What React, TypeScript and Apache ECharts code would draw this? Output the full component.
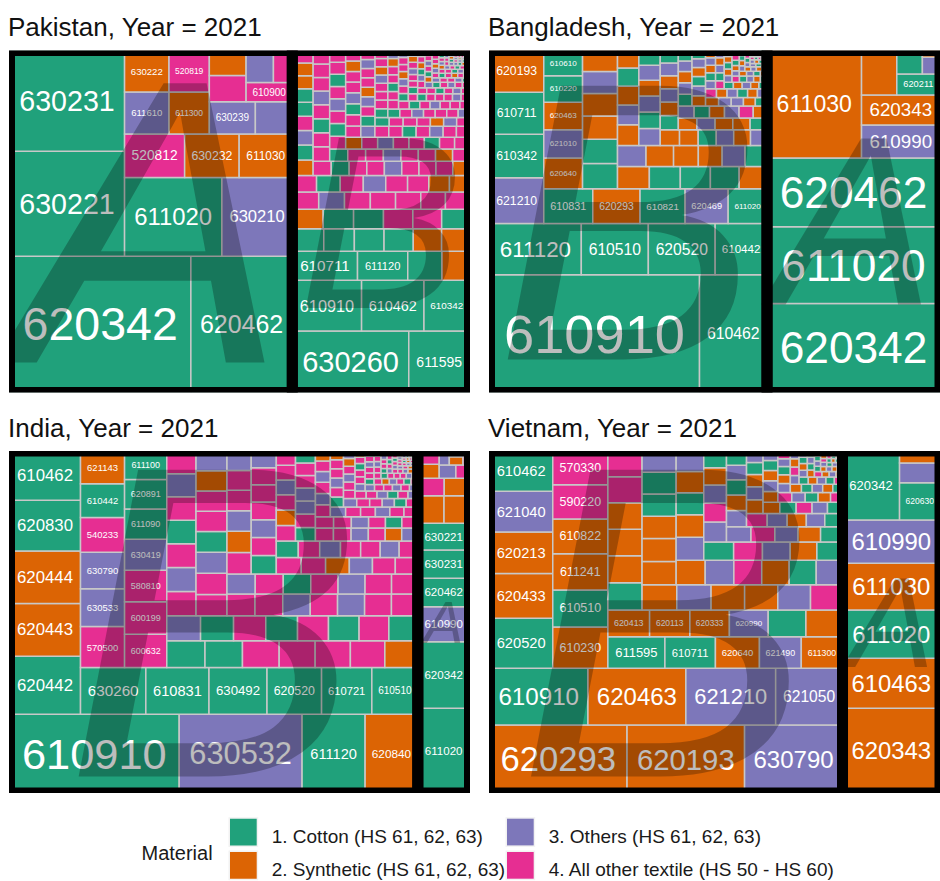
import React, { useEffect, useRef } from 'react';
import * as echarts from 'echarts';

// ---------------- DATA (values read as relative tile areas) ----------------
// cats: c = Cotton, s = Synthetic, o = Others, t = All other textile

// Pakistan
const PK_A_CODES = ['620342','620462','630221','630231','611020','630210','520812','630232','611030','611610','630222','611300','520819','630239','630299','611400','611090','610900','630293','520100'];
const PK_A_VALUES = [245,137,120,115,76,55,26,23.6,23,18.5,18.3,16.8,16.6,14.7,11.8,9.6,9.1,8.8,8.7,6.0];
const PK_A_CATS = 'cccccotssosstootstot';

const PK_B_CODES = ['630260','611595','610910','610462','610342','610711','611120'];
const PK_B_VALUES = [71,37,35,31.5,23,18.7,14.4,9.8,7.9,
  7.0,6.8,6.6,6.5,6.3,6.2, 6.0,5.9,5.8,5.7,5.6,5.4,
  4.5,4.4,4.4,4.3,4.3,4.2,4.1, 4.0,3.9,3.8,3.7,3.6,3.5,3.4,
  3.3,3.2,3.1,3.0,2.95,2.9,2.8,2.7,2.6,
  2.6,2.58,2.55,2.52,2.5,2.48,2.45,2.42,2.4,2.38,2.35,2.33,2.3,2.28,2.26,2.24,2.22,2.2,2.18,2.16,2.14,2.12,2.1,2.08,2.06,2.04,2.02,2.0,
  1.98,1.96,1.94,1.92,1.9,1.88,1.86,1.84,1.82,1.8,1.78,1.76,1.74,1.72,1.7,1.68,1.66,1.64,1.62,1.6,1.58,1.56,1.54,1.52,1.5,1.49,1.48,1.47,
  1.45,1.43,1.41,1.39,1.37,1.35,1.33,1.31,1.29,1.27,1.25,1.23,1.21,1.19,1.17,1.15,1.13,1.11,1.09,1.07,1.06,1.05,1.04,1.03,1.02,1.01,1.0,0.99,0.98,0.97,
  0.96,0.95,0.94,0.92,0.9,0.89,0.88,0.86,0.85,0.84,0.82,0.8,0.79,0.78,0.76,0.75,0.74,0.72,0.71,0.7,0.69,0.68,0.67,0.66,0.65,0.64,0.63,0.62,0.62,0.61,
  0.6,0.59,0.58,0.57,0.56,0.55,0.54,0.53,0.52,0.51,0.5,0.49,0.48,0.47,0.46,0.45,0.45,0.44,0.43,0.42,0.42,0.41,0.4,0.4,0.39,0.39,0.38,0.38,0.37,0.37,0.36,0.36,
  0.35,0.34,0.34,0.33,0.32,0.32,0.31,0.3,0.3,0.29,0.28,0.28,0.27,0.26,0.26,0.25,0.25,0.24,0.23,0.23,0.22,0.22,0.21,0.21,0.2,0.2,0.19,0.19,0.18,0.18,0.17,0.17,0.16,0.16,
  0.15,0.15,0.14,0.14,0.13,0.13,0.12,0.12,0.12,0.11,0.11,0.1,0.1,0.1,0.09,0.09,0.09,0.08,0.08,0.08,0.07,0.07,0.07,0.06,0.06,0.06,0.05,0.05,0.05,0.05,0.04,0.04,0.04,0.03,0.03,0.03];
const PK_B_CATS = 'ccccccc' + 'cs' + 'ccccss' + 'sccttc' + 'tottttt' + 'tctotts' + 'sscotccss' +
  'ttct' + 'tott' + 'tstt' + 'ctot' + 'ttct' + 'tott' + 'sttc' +
  'totc' + 'ttst' + 'ottc' + 'tttt' + 'cott' + 'stot' + 'tcto' +
  'ttcto' + 'sttot' + 'cttts' + 'otctt' + 'tostt' + 'ctott' +
  'tottc' + 'ttsot' + 'ctott' + 'tctos' + 'ttotc' + 'tttot' +
  'ctto' + 'tsot' + 'tcto' + 'ttoc' + 'stto' + 'ctot' + 'tsct' + 'otto' +
  'ttoct' + 'ostto' + 'ctsto' + 'ttcot' + 'sotct' + 'otcts' + 'ttot' +
  'ocst' + 'tocs' + 'ttoc' + 'sotc' + 'tsoc' + 'tost' + 'coto' + 'stoc' + 'tost';

// Bangladesh
const BD_B_CODES = ['610910','610462','611120','610510','620520','610442','621210','610342','610711','620193','610831','620293','610821','620469','611020','620640','621010','620463','610220','610610'];
const BD_B_VALUES = [252,81,47.8,34.9,34.8,27,25.4,24,23.2,23.1,17.4,16.8,16,15.3,13.8,12.1,11.2,10.9,10.4,10.0,
  9.0,8.6,8.3,8.0,7.8,7.5,
  7.2,7.0,6.8,6.5,6.3,6.1,5.9,
  5.3,5.1,4.9,4.7,4.5,4.3,4.1,3.95,3.8,3.7,3.6,3.5,
  3.4,3.3,3.2,3.1,3.0,2.9,2.8,2.7,2.65,2.6,2.5,2.45,2.4,2.35,2.3,2.2,
  2.15,2.1,2.05,2.0,1.95,1.9,1.85,1.8,1.75,1.7,1.65,1.6,1.55,1.5,1.45,1.4,1.35,1.3,1.25,1.2,
  1.15,1.12,1.08,1.05,1.02,1.0,0.97,0.94,0.92,0.9,0.87,0.85,0.83,0.8,0.78,0.76,0.74,0.72,0.7,0.68,0.66,0.64,0.62,0.6,
  0.58,0.56,0.55,0.53,0.52,0.5,0.49,0.47,0.46,0.45,0.43,0.42,0.41,0.4,0.39,0.38,0.37,0.36,0.35,0.34,0.33,0.32,0.31,0.3,0.29,0.28,0.27,0.26,
  0.25,0.24,0.23,0.22,0.21,0.2,0.19,0.19,0.18,0.17,0.16,0.16,0.15,0.14,0.14,0.13,0.12,0.12,0.11,0.1,0.1,0.09,0.09,0.08,0.08,0.07,0.07,0.06,0.06,0.05];
const BD_B_CATS = 'ccccccoccscscocsoscc' + 'ccssos' + 'scccsos' + 'ssocsoscsoco' + 'socsscosocsosocs' +
  'osscocsotscosocsocso' + 'csoosctsocsoocsostcosocs' + 'oscoscsotcoscosctosocsoscoso' + 'scoctsocsoscotsocsotcsoscotscs';

const BD_A_CODES = ['620342','611020','620462','611030','610990','620343','620433','620211'];
const BD_A_VALUES = [157,135,121,103.6,26.5,23.9,16,9.3,6.1,3.0,1.2];
const BD_A_CATS = 'cccsossccos';

// India
const IN_B_CODES = ['610910','630532','611120','620840','620442','620443','620444','620830','610462','630260','610831','630492','620520','610721','610510','570500','630533','630790','540233','610442','621143','600632','600199','580810','630419','611090','620891','611100'];
const IN_B_VALUES = [133,96.3,49.4,41.3,41.0,37.4,37.0,36.0,34.8,30.4,29.4,27.0,25.4,23.4,21.4,18.0,16.6,16.0,15.2,14.8,14.4,14.0,13.6,13.3,13.0,12.7,12.4,12.0,
  10.2,10.0,9.8,9.6,9.4,9.2,8.8, 8.4,8.2,8.0,7.9,7.7,7.6,7.4,7.2,
  7.1,7.0,6.9,6.85,6.8,6.7,6.65,6.6,6.5,6.45,6.4,6.3,6.25,6.2,6.1,6.05,6.0,5.95,5.9,5.85,
  5.8,5.7,5.65,5.6,5.5,5.45,5.4,5.3,5.25,5.2,5.1,5.0,4.9,4.8,4.7,4.6,4.5,4.45,4.4,4.3,
  4.25,4.2,4.1,4.0,3.9,3.8,3.75,3.7,3.6,3.5,3.4,3.3,3.2,3.1,3.05,3.0,2.95,2.9,2.85,2.8,2.75,2.7,2.65,2.6,
  2.55,2.5,2.45,2.4,2.35,2.3,2.25,2.2,2.15,2.1,2.05,2.0,1.95,1.9,1.85,1.8,1.75,1.7,1.65,1.6,1.55,1.5,1.47,1.44,
  1.42,1.39,1.36,1.33,1.3,1.27,1.24,1.21,1.18,1.15,1.12,1.09,1.06,1.03,1.0,0.98,0.96,0.94,0.92,0.9,0.88,0.86,0.84,0.82,0.8,0.78,0.76,0.74,
  0.72,0.7,0.68,0.66,0.64,0.62,0.6,0.58,0.56,0.55,0.54,0.53,0.52,0.51,0.5,0.49,0.48,0.47,0.46,0.45,0.44,0.43,0.42,0.41,0.4,0.39,0.38,0.37,0.36,0.35,0.34,0.33,
  0.32,0.31,0.3,0.29,0.28,0.27,0.26,0.25,0.245,0.24,0.235,0.23,0.225,0.22,0.215,0.21,0.205,0.2,0.195,0.19,0.185,0.18,0.175,0.17,0.165,0.16,0.155,0.15,0.145,0.14,0.135,0.13,0.125,0.12,
  0.115,0.11,0.105,0.1,0.1,0.095,0.09,0.09,0.085,0.08,0.08,0.075,0.07,0.07,0.065,0.06,0.06,0.055,0.05,0.05,0.045,0.04,0.04,0.035,0.03,0.03,0.03,0.025,0.025,0.02,0.02,0.02,0.02,0.015,0.015,0.015];
const IN_B_CATS = 'cocscsscccccccctootcstttoccc' + 'cctttts' + 'octctctc' +
  'totct' + 'ottto' + 'cttso' + 'ttoto' +
  'ttotc' + 'tottt' + 'sotto' + 'ctott' +
  'tott' + 'sott' + 'ctot' + 'tott' + 'stot' + 'tcto' +
  'ottc' + 'ttot' + 'sott' + 'otct' + 'toto' + 'tsot' +
  'tott' + 'ctot' + 'tsot' + 'toct' + 'ttot' + 'sott' + 'octo' +
  'ottc' + 'tsot' + 'toto' + 'ctto' + 'tots' + 'otct' + 'ttot' + 'octt' +
  'totc' + 'ttos' + 'otct' + 'otto' + 'stot' + 'ctto' + 'tsot' + 'toct' + 'to' +
  'otcs' + 'toto' + 'ctst' + 'otco' + 'tsto' + 'ctot' + 'sotc' + 'toto' + 'stct';

const IN_A_CODES = ['611020','620342','610990','620462','630231','630221'];
const IN_A_VALUES = [43.6,34.3,18.0,14.6,14.5,13.8,7.2,7.0,4.6,4.4,3.0,2.8,2.2,1.8,1.4,1.1,0.8,0.6,0.3];
const IN_A_CATS = 'ccoccc' + 'sstsstotosots';

// Vietnam
const VN_B_CODES = ['620293','620193','630790','610910','620463','621210','621050','620520','620433','620213','621040','610462','610230','610510','611241','610822','590220','570330','611595','610711','620640','621490','611300','620413','620113','620333','620990','620462','620453'];
const VN_B_VALUES = [95.5,81.6,68,57,56.7,52,38.7,32.3,29,26.8,26.3,26.0,23.3,20.8,20.4,19.6,19.2,19.0,18.4,16.3,14.2,13.5,13.3,11.4,11.0,10.8,10.6,10.3,10.0,
  9.5,9.4,9.3,9.2,9.1,9.0,
  8.9,8.8,8.6,8.5,8.4,8.2,8.1,8.0,7.8,7.7,7.6,7.4,7.3,7.2,7.0,6.9,6.8,6.6,
  6.5,6.3,6.2,6.0,5.8,5.6,5.4,5.2,5.0,4.8,4.6,4.4,4.2,4.0,3.9,3.8,
  3.7,3.6,3.5,3.4,3.3,3.2,3.1,3.0,2.9,2.8,2.7,2.6,2.5,2.4,2.3,2.2,2.1,2.0,
  1.95,1.9,1.85,1.8,1.75,1.7,1.65,1.6,1.55,1.5,1.45,1.4,1.35,1.3,1.25,1.2,1.15,1.1,1.05,1.0,0.97,0.94,
  0.91,0.88,0.85,0.82,0.79,0.76,0.73,0.7,0.68,0.66,0.64,0.62,0.6,0.58,0.56,0.54,0.52,0.5,0.48,0.46,0.44,0.42,0.4,0.38,0.36,0.34,
  0.33,0.32,0.31,0.3,0.29,0.28,0.27,0.26,0.25,0.24,0.23,0.22,0.21,0.2,0.19,0.18,0.17,0.16,0.15,0.14,0.13,0.12,0.11,0.1,0.09,0.08,0.07,0.06,0.05,0.04];
const VN_B_CATS = 'ssocsoo' + 'cssoc' + 'scsstt' + 'ccsos' + 'sssocs' + 'cssstt' +
  'soss' + 'otss' + 'scco' + 'sots' + 'co' +
  'oscs' + 'octo' + 'scot' + 'osco' +
  'tosc' + 'osco' + 'ctos' + 'ocso' + 'sc' +
  'osct' + 'ocso' + 'scot' + 'ocst' + 'osco' + 'ts' +
  'cosc' + 'otso' + 'csoc' + 'tosc' + 'osco' + 'ctso' + 'sc' +
  'octs' + 'osco' + 'tsoc' + 'osct' + 'osco' + 'ctos' + 'cost' + 'sc';

const VN_A_CODES = ['620343','610463','611020','611030','610990','620342','620630'];
const VN_A_VALUES = [84.3,49.8,48.1,46.5,43.1,40.2,15.4,8.1,5.0];
const VN_A_CATS = 'sscsoccos';

const TITLES = ['Pakistan, Year = 2021', 'Bangladesh, Year = 2021', 'India, Year = 2021', 'Vietnam, Year = 2021'];
const LEGEND_TITLE = 'Material';
const LEGEND_LABELS = ['1. Cotton (HS 61, 62, 63)', '2. Synthetic (HS 61, 62, 63)', '3. Others (HS 61, 62, 63)', '4. All other textile (HS 50 - HS 60)'];
const LEGEND_KEYS = ['c', 's', 'o', 't'];

// ---------------- STYLE ----------------
const FONT = '"Liberation Sans", Arial, Helvetica, sans-serif';
const COLORS: Record<string, string> = { c: '#20a17b', s: '#dc6404', o: '#7d77ba', t: '#e62e92' };
const PANEL_W = 460;
const PANEL_H = 342;
const PANEL_POS = [
  { left: 9.5, top: 50.5 },
  { left: 489.5, top: 50.5 },
  { left: 9.5, top: 451 },
  { left: 489.5, top: 451 },
];

type Group = { letter: string; codes: string[]; values: number[]; cats: string };
const PANEL_GROUPS: Group[][] = [
  [{ letter: 'A', codes: PK_A_CODES, values: PK_A_VALUES, cats: PK_A_CATS }, { letter: 'B', codes: PK_B_CODES, values: PK_B_VALUES, cats: PK_B_CATS }],
  [{ letter: 'B', codes: BD_B_CODES, values: BD_B_VALUES, cats: BD_B_CATS }, { letter: 'A', codes: BD_A_CODES, values: BD_A_VALUES, cats: BD_A_CATS }],
  [{ letter: 'B', codes: IN_B_CODES, values: IN_B_VALUES, cats: IN_B_CATS }, { letter: 'A', codes: IN_A_CODES, values: IN_A_VALUES, cats: IN_A_CATS }],
  [{ letter: 'B', codes: VN_B_CODES, values: VN_B_VALUES, cats: VN_B_CATS }, { letter: 'A', codes: VN_A_CODES, values: VN_A_VALUES, cats: VN_A_CATS }],
];

// ---------------- squarified layout (start bottom-left, unit square) ----------------
type Rect = { x: number; y: number; w: number; h: number };

function worst(amax: number, amin: number, s: number, side: number) {
  const s2 = s * s;
  const side2 = side * side;
  return Math.max((side2 * amax) / s2, s2 / (side2 * amin));
}

function squarify(values: number[], rect: Rect): Rect[] {
  const n = values.length;
  const order = values.map((_, i) => i).sort((a, b) => values[b] - values[a] || a - b);
  const total = values.reduce((a, b) => a + b, 0);
  const k = (rect.w * rect.h) / total;
  const out: Rect[] = new Array(n);
  const r = { ...rect };
  let i = 0;
  while (i < n) {
    const side = Math.min(r.w, r.h);
    const a0 = values[order[i]] * k;
    let s = a0, amax = a0, amin = a0;
    let best = worst(amax, amin, s, side);
    let j = i + 1;
    while (j < n) {
      const a = values[order[j]] * k;
      const ns = s + a;
      const nmax = Math.max(amax, a);
      const nmin = Math.min(amin, a);
      const wv = worst(nmax, nmin, ns, side);
      if (wv <= best) {
        s = ns; amax = nmax; amin = nmin; best = wv; j++;
      } else break;
    }
    if (r.w >= r.h) {
      const cw = s / r.h;
      let yy = r.y;
      for (let q = i; q < j; q++) {
        const hh = (values[order[q]] * k) / cw;
        out[order[q]] = { x: r.x, y: yy, w: cw, h: hh };
        yy += hh;
      }
      r.x += cw; r.w -= cw;
    } else {
      const rh = s / r.w;
      let xx = r.x;
      for (let q = i; q < j; q++) {
        const ww = (values[order[q]] * k) / rh;
        out[order[q]] = { x: xx, y: r.y, w: ww, h: rh };
        xx += ww;
      }
      r.y += rh; r.h -= rh;
    }
    i = j;
  }
  return out;
}

type Tile = Rect & { code: string; cat: string };

function buildOption() {
  const grid = PANEL_POS.map((p) => ({ left: p.left, top: p.top, width: PANEL_W, height: PANEL_H }));
  const xAxis = PANEL_POS.map((_, i) => ({ type: 'value', gridIndex: i, min: 0, max: 1, show: false }));
  const yAxis = PANEL_POS.map((_, i) => ({ type: 'value', gridIndex: i, min: 0, max: 1, show: false }));
  const series: any[] = [];

  PANEL_GROUPS.forEach((groups, pi) => {
    const sums = groups.map((g) => g.values.reduce((a, b) => a + b, 0));
    const groupRects = squarify(sums, { x: 0, y: 0, w: 1, h: 1 });
    const tiles: Tile[] = [];
    groups.forEach((g, gi) => {
      const rects = squarify(g.values, groupRects[gi]);
      rects.forEach((rc, ti) => tiles.push({ ...rc, code: g.codes[ti] || '', cat: g.cats[ti] || 't' }));
    });

    const toPx = (api: any, x0: number, y0: number, x1: number, y1: number) => {
      const p0 = api.coord([x0, y1]);
      const p1 = api.coord([x1, y0]);
      return { x: p0[0], y: p0[1], w: p1[0] - p0[0], h: p1[1] - p0[1] };
    };

    series.push({
      type: 'custom',
      xAxisIndex: pi,
      yAxisIndex: pi,
      clip: true,
      silent: true,
      z: 2,
      data: tiles.map((t) => [t.x, t.y, t.x + t.w, t.y + t.h]),
      renderItem: (params: any, api: any) => {
        const t = tiles[params.dataIndex];
        const b = toPx(api, api.value(0), api.value(1), api.value(2), api.value(3));
        const children: any[] = [
          {
            type: 'rect',
            shape: { x: b.x, y: b.y, width: b.w, height: b.h },
            style: { fill: COLORS[t.cat], stroke: '#c8c8c8', lineWidth: 1.5 },
          },
        ];
        if (t.code) {
          const fs = Math.min((b.w * 0.9 - 8) / (t.code.length * 0.556), (b.h * 0.9 - 6) / 0.75);
          if (fs >= 7.8) {
            children.push({
              type: 'text',
              x: b.x + b.w / 2,
              y: b.y + b.h / 2,
              style: { text: t.code, fill: '#ffffff', fontSize: fs, fontFamily: FONT, align: 'center', verticalAlign: 'middle' },
            });
          }
        }
        return { type: 'group', children };
      },
    });

    series.push({
      type: 'custom',
      xAxisIndex: pi,
      yAxisIndex: pi,
      clip: true,
      silent: true,
      z: 3,
      data: groupRects.map((r) => [r.x, r.y, r.x + r.w, r.y + r.h]),
      renderItem: (params: any, api: any) => {
        const g = groups[params.dataIndex];
        const b = toPx(api, api.value(0), api.value(1), api.value(2), api.value(3));
        const fs = Math.min((b.w - 12) / 0.667, (b.h - 12) / 0.74);
        return {
          type: 'text',
          x: b.x + b.w / 2,
          y: b.y + b.h / 2,
          style: {
            text: g.letter, fill: 'rgba(0,0,0,0.26)', fontSize: fs, fontStyle: 'italic',
            fontFamily: FONT, align: 'center', verticalAlign: 'middle',
          },
        };
      },
    });

    series.push({
      type: 'custom',
      xAxisIndex: pi,
      yAxisIndex: pi,
      clip: true,
      silent: true,
      z: 4,
      data: groupRects.map((r) => [r.x, r.y, r.x + r.w, r.y + r.h]),
      renderItem: (params: any, api: any) => {
        const b = toPx(api, api.value(0), api.value(1), api.value(2), api.value(3));
        return {
          type: 'rect',
          shape: { x: b.x, y: b.y, width: b.w, height: b.h },
          style: { fill: 'none', stroke: '#000000', lineWidth: 11 },
        };
      },
    });
  });

  const graphic: any[] = [];
  TITLES.forEach((t, i) => {
    graphic.push({
      type: 'text',
      x: PANEL_POS[i].left - 1.5,
      y: PANEL_POS[i].top - 23.3,
      style: { text: t, fontSize: 26, fontFamily: FONT, fill: '#111111', align: 'left', verticalAlign: 'middle' },
    });
  });
  graphic.push({
    type: 'text', x: 141.5, y: 852.8,
    style: { text: LEGEND_TITLE, fontSize: 20, fontFamily: FONT, fill: '#1a1a1a', align: 'left', verticalAlign: 'middle' },
  });
  const keyPos = [
    { x: 230, y: 818.7 },
    { x: 230, y: 852 },
    { x: 507, y: 818.7 },
    { x: 507, y: 852 },
  ];
  LEGEND_KEYS.forEach((k, i) => {
    graphic.push({
      type: 'rect',
      shape: { x: keyPos[i].x - 1.5, y: keyPos[i].y - 1.5, width: 29.7, height: 29.7 },
      style: { fill: '#f2f2f2', stroke: 'none' },
    });
    graphic.push({
      type: 'rect',
      shape: { x: keyPos[i].x, y: keyPos[i].y, width: 26.7, height: 26.7 },
      style: { fill: COLORS[k] },
    });
    graphic.push({
      type: 'text',
      x: keyPos[i].x + 41.7,
      y: keyPos[i].y + 17.5,
      style: { text: LEGEND_LABELS[i], fontSize: 19, fontFamily: FONT, fill: '#1a1a1a', align: 'left', verticalAlign: 'middle' },
    });
  });

  return {
    animation: false,
    backgroundColor: '#ffffff',
    grid,
    xAxis,
    yAxis,
    series,
    graphic,
  };
}

export default function App() {
  const ref = useRef<HTMLDivElement>(null);
  useEffect(() => {
    if (!ref.current) return;
    const chart = echarts.init(ref.current, null, { renderer: 'svg' });
    chart.setOption(buildOption() as any);
    return () => chart.dispose();
  }, []);
  return (
    <div
      ref={ref}
      style={{ position: 'absolute', left: 0, top: 0, width: 940, height: 881, background: '#ffffff' }}
    />
  );
}
